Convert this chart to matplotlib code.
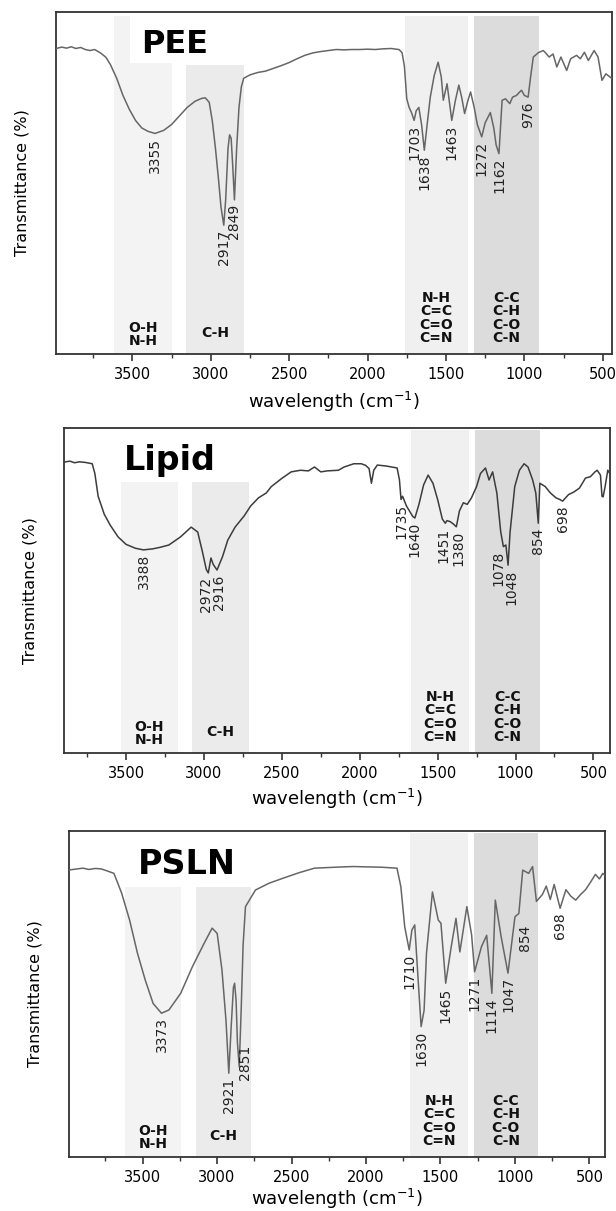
import matplotlib
matplotlib.use('Agg')
import matplotlib.pyplot as plt
import matplotlib.transforms as mtransforms
import numpy as np

plt.rcParams['font.family'] = ['DejaVu Sans']

# spectra: (wavenumber, transmittance in % of panel height)
pee_spec = [
    (3987, 89.2), (3950, 89.6), (3920, 89.3), (3890, 89.7), (3860, 89.2), (3830, 89.5),
    (3800, 88.9), (3770, 88.6), (3740, 88.9), (3700, 87.8), (3668, 86.6), (3640, 84.5),
    (3600, 80.5), (3560, 75.5), (3520, 71.5), (3480, 68.2), (3440, 66.0), (3400, 65.0),
    (3355, 64.4), (3300, 65.3), (3250, 67.0), (3200, 69.5), (3150, 72.0), (3100, 73.8),
    (3060, 74.6), (3035, 74.8), (3010, 73.5), (2990, 68.0), (2970, 60.0), (2950, 50.7),
    (2935, 43.0), (2917, 37.6), (2905, 45.0), (2890, 60.0), (2880, 64.0), (2870, 63.0),
    (2860, 55.0), (2849, 45.0), (2835, 60.0), (2820, 72.0), (2805, 78.0), (2790, 80.5),
    (2750, 81.5), (2700, 82.2), (2650, 82.6), (2600, 83.4), (2550, 84.2), (2500, 85.1),
    (2450, 86.2), (2400, 87.2), (2350, 87.9), (2300, 88.3), (2250, 88.6), (2200, 88.9),
    (2150, 88.8), (2100, 88.9), (2050, 88.9), (2000, 89.0), (1950, 88.9), (1900, 89.1),
    (1850, 89.2), (1800, 88.9), (1780, 88.0), (1765, 84.0), (1750, 74.5), (1735, 72.0),
    (1720, 70.5), (1703, 68.2), (1690, 71.0), (1673, 72.0), (1655, 66.8), (1638, 59.5),
    (1620, 67.0), (1600, 75.0), (1575, 81.3), (1550, 85.2), (1530, 80.9), (1517, 74.1),
    (1493, 78.9), (1463, 68.2), (1440, 74.0), (1418, 78.5), (1400, 75.0), (1381, 70.2),
    (1360, 74.0), (1343, 76.5), (1320, 72.0), (1300, 67.0), (1272, 63.4), (1250, 67.5),
    (1217, 70.5), (1195, 66.0), (1180, 61.0), (1162, 58.5), (1142, 74.1), (1120, 74.5),
    (1093, 73.1), (1075, 75.0), (1050, 75.5), (1030, 76.5), (1018, 77.0), (1000, 75.5),
    (976, 75.0), (960, 81.0), (943, 86.7), (910, 88.0), (880, 88.6), (868, 88.1),
    (842, 86.7), (817, 87.6), (793, 83.8), (767, 86.7), (730, 82.8), (705, 86.2),
    (667, 87.2), (643, 86.2), (617, 88.1), (592, 85.7), (555, 88.6), (530, 86.7),
    (505, 79.9), (480, 81.8), (443, 80.5),
]

lipid_spec = [
    (3900, 89.5), (3860, 89.8), (3830, 89.3), (3800, 89.6), (3760, 89.4), (3717, 89.0),
    (3700, 86.0), (3679, 79.0), (3640, 73.5), (3600, 70.0), (3551, 66.5), (3500, 64.2),
    (3440, 63.0), (3388, 62.5), (3330, 62.8), (3280, 63.3), (3225, 64.0), (3150, 66.5),
    (3082, 69.5), (3040, 68.0), (3010, 62.0), (2985, 56.5), (2972, 55.4), (2955, 60.0),
    (2940, 58.0), (2916, 56.3), (2880, 60.5), (2847, 65.5), (2800, 69.5), (2741, 73.0),
    (2700, 76.0), (2650, 78.5), (2600, 80.0), (2567, 82.0), (2500, 84.5), (2440, 86.5),
    (2380, 87.0), (2330, 86.8), (2290, 88.0), (2250, 86.5), (2210, 86.8), (2137, 87.0),
    (2100, 88.0), (2038, 89.0), (1990, 89.0), (1962, 88.5), (1940, 87.5), (1925, 83.0),
    (1910, 87.0), (1887, 88.6), (1830, 88.3), (1760, 87.7), (1745, 84.0), (1735, 78.0),
    (1725, 79.0), (1700, 76.0), (1660, 72.8), (1646, 72.3), (1620, 76.5), (1590, 82.5),
    (1561, 85.5), (1530, 83.0), (1500, 78.0), (1470, 72.0), (1451, 70.7), (1440, 71.5),
    (1420, 71.2), (1400, 70.5), (1380, 69.6), (1360, 74.5), (1335, 77.0), (1310, 76.5),
    (1283, 78.5), (1250, 82.0), (1225, 86.0), (1193, 87.7), (1170, 84.0), (1147, 86.5),
    (1120, 80.0), (1095, 68.0), (1078, 63.5), (1062, 64.0), (1048, 57.8), (1035, 68.0),
    (1005, 82.0), (975, 87.0), (945, 89.0), (920, 88.0), (890, 84.0), (870, 80.0),
    (854, 70.7), (844, 83.0), (810, 82.0), (776, 80.0), (740, 78.5), (716, 78.0),
    (698, 77.5), (660, 79.5), (626, 80.3), (590, 81.5), (551, 84.6), (520, 85.0),
    (490, 86.5), (476, 87.0), (455, 85.5), (445, 79.0), (438, 78.8), (425, 82.0),
    (408, 87.0), (395, 86.0),
]

psln_spec = [
    (4000, 88.0), (3950, 88.3), (3900, 88.6), (3860, 88.2), (3820, 88.5), (3780, 88.4),
    (3740, 87.8), (3692, 87.0), (3640, 80.9), (3587, 72.7), (3534, 62.5), (3482, 54.3),
    (3429, 47.1), (3373, 44.1), (3323, 45.1), (3244, 50.2), (3165, 58.4), (3086, 65.6),
    (3033, 70.2), (2999, 68.6), (2967, 57.4), (2940, 42.0), (2921, 25.7), (2905, 40.0),
    (2890, 52.0), (2882, 53.3), (2872, 48.0), (2863, 35.0), (2851, 27.7), (2838, 45.0),
    (2825, 65.0), (2809, 76.8), (2742, 81.9), (2650, 84.0), (2558, 85.5), (2450, 87.2),
    (2346, 88.6), (2250, 88.8), (2150, 89.0), (2083, 89.1), (2000, 89.0), (1900, 88.9),
    (1792, 88.6), (1766, 82.9), (1740, 70.6), (1710, 63.5), (1692, 69.6), (1673, 71.2),
    (1647, 52.2), (1630, 40.0), (1610, 45.0), (1594, 62.5), (1554, 81.3), (1515, 72.7),
    (1497, 71.7), (1465, 53.3), (1428, 64.5), (1396, 73.2), (1370, 62.9), (1323, 76.8),
    (1291, 68.1), (1271, 56.8), (1225, 64.5), (1190, 68.0), (1155, 50.2), (1132, 78.8),
    (1093, 67.6), (1047, 56.4), (1000, 73.7), (974, 74.7), (948, 88.0), (908, 87.0),
    (882, 89.1), (856, 78.4), (816, 80.5), (790, 83.1), (763, 79.0), (737, 83.6),
    (697, 76.3), (658, 82.0), (625, 80.0), (592, 78.8), (560, 80.5), (526, 82.0),
    (490, 84.5), (460, 86.7), (433, 85.3), (410, 87.0), (395, 86.3),
]

pee_peaks = [3355, 2917, 2849, 1703, 1638, 1463, 1272, 1162, 976]
lipid_peaks = [3388, 2972, 2916, 1735, 1640, 1451, 1380, 1078, 1048, 854, 698]
psln_peaks = [3373, 2921, 2851, 1710, 1630, 1465, 1271, 1114, 1047, 854, 698]

group_labels = ['O-H\nN-H', 'C-H', 'N-H\nC=C\nC=O\nC=N', 'C-C\nC-H\nC-O\nC-N']

# shaded regions (high, low wavenumber) per panel
pee_bands = [(3615, 3248), (3158, 2790), (1763, 1358), (1320, 907)]
lipid_bands = [(3535, 3165), (3075, 2712), (1669, 1298), (1260, 845)]
psln_bands = [(3619, 3239), (3144, 2772), (1703, 1315), (1275, 848)]

# label nudges in points (dx, dy) where the picture moves a label off its dip
lipid_nudge = {2972: (-1.5, 0), 2916: (1.5, 0), 1451: (-1.5, 0), 1380: (1.5, 0),
               1078: (-3.5, 0), 1048: (2.5, 0)}
psln_nudge = {2851: (4, 19), 854: (-8, -14)}

panels = [
    dict(name='PEE', spec=pee_spec, peaks=pee_peaks, bands=pee_bands, nudge={},
         xlim=(3987, 443), rect=[56 / 616, 1 - 354 / 1211, 555.7 / 616, 342.5 / 1211],
         tops=[0.988, 0.843, 0.988, 0.988], line='#666666',
         title_xy=(0.154, 0.878), title_size=23, mask=(3515, 2700, 0.85, 0.99), xl=-48),
    dict(name='Lipid', spec=lipid_spec, peaks=lipid_peaks, bands=lipid_bands, nudge=lipid_nudge,
         xlim=(3900, 395), rect=[63.7 / 616, 1 - 753 / 1211, 546.1 / 616, 325 / 1211],
         tops=[0.834, 0.834, 0.994, 0.994], line='#3c3c3c',
         title_xy=(0.110, 0.872), title_size=24, mask=None, xl=-46),
    dict(name='PSLN', spec=psln_spec, peaks=psln_peaks, bands=psln_bands, nudge=psln_nudge,
         xlim=(3995, 395), rect=[68.8 / 616, 1 - 1157 / 1211, 536.3 / 616, 326 / 1211],
         tops=[0.828, 0.828, 0.994, 0.994], line='#666666',
         title_xy=(0.128, 0.868), title_size=24, mask=None, xl=-42),
]

band_colors = ['#f3f3f3', '#ebebeb', '#f0f0f0', '#dcdcdc']
label_bottom_px = [6, 21, 9, 9]

fig = plt.figure(figsize=(6.16, 12.11), dpi=100)

for p in panels:
    ax = fig.add_axes(p['rect'])
    arr = np.array(p['spec'], dtype=float)
    wn, tr = arr[:, 0], arr[:, 1]
    h_px = p['rect'][3] * 1211
    w_px = p['rect'][2] * 616

    trans = mtransforms.blended_transform_factory(ax.transData, ax.transAxes)
    for (hi, lo), top, col in zip(p['bands'], p['tops'], band_colors):
        ax.axvspan(lo, hi, ymin=0, ymax=top, color=col, lw=0, zorder=0)
    if p['mask'] is not None:
        m = p['mask']
        ax.axvspan(m[1], m[0], ymin=m[2], ymax=m[3], color='white', lw=0, zorder=0.5)

    ax.plot(wn, tr, color=p['line'], lw=1.1, zorder=3)

    # peak labels at nearest local minimum
    is_min = np.r_[False, (tr[1:-1] < tr[:-2]) & (tr[1:-1] < tr[2:]), False]
    min_idx = np.where(is_min)[0]
    for pk in p['peaks']:
        i = min_idx[np.argmin(np.abs(wn[min_idx] - pk))]
        dx, dy = p['nudge'].get(pk, (0, 0))
        ax.annotate(str(pk), (wn[i], tr[i]), xytext=(dx, dy - 3), textcoords='offset points',
                    rotation=90, ha='center', va='top', fontsize=10, color='#222222',
                    zorder=4)

    for (hi, lo), txt, off in zip(p['bands'], group_labels, label_bottom_px):
        va = 'center' if '\n' not in txt else 'bottom'
        ax.text((hi + lo) / 2, off / h_px, txt, transform=trans, ha='center', va=va,
                fontsize=10, fontweight='bold', linespacing=0.95,
                color='#111111', zorder=4)

    ax.text(p['title_xy'][0], p['title_xy'][1], p['name'], transform=ax.transAxes,
            fontsize=p['title_size'], fontweight='bold',
            ha='left', va='baseline', zorder=5)

    ax.set_xlim(*p['xlim'])
    ax.set_ylim(0, 100)
    ax.set_xticks(np.arange(500, 4000, 500))
    ax.set_xticks(np.arange(750, 4000, 500), minor=True)
    ax.set_yticks([])
    ax.tick_params(axis='x', which='major', direction='out', length=5, width=1.2,
                   labelsize=10.5, pad=4, color='#333333')
    ax.tick_params(axis='x', which='minor', direction='out', length=3, width=1.0,
                   color='#333333')
    for s in ax.spines.values():
        s.set_linewidth(1.3)
        s.set_color('#333333')

    ax.set_xlabel('wavelength (cm$^{-1}$)', fontsize=13)
    ax.xaxis.label.set_va('center')
    ax.xaxis.set_label_coords(0.5, p['xl'] / h_px)
    ax.set_ylabel('Transmittance (%)', fontsize=11.5)
    ax.yaxis.label.set_va('center')
    ax.yaxis.set_label_coords(-34 / w_px, 0.5)

fig.savefig('out.png', dpi=100)
